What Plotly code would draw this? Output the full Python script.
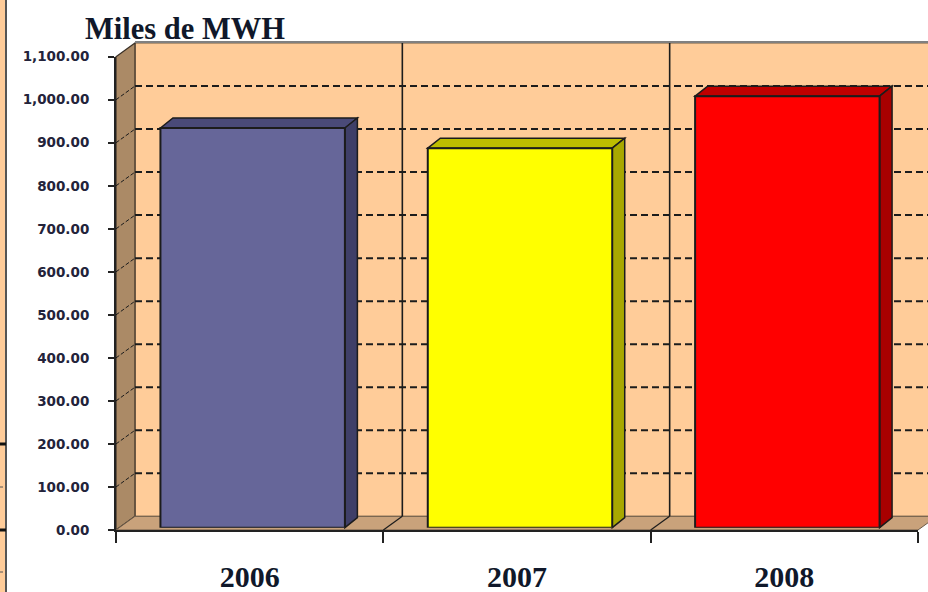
import plotly.graph_objects as go

# data
years = ["2006", "2007", "2008"]
values = [929, 882, 1003]
front_colors = ["#666699", "#FFFF00", "#FF0000"]
top_colors = ["#4A4A78", "#BDBD00", "#C00000"]
side_colors = ["#3F3F68", "#A8A800", "#A80000"]
y_ticks = list(range(0, 1200, 100))

W, H = 928, 592
AX_L, AX_R, AX_B, AX_T = 116, 918, 530, 56.7
DX, DY = 19, 13.7      # depth of walls
BAR_DX, BAR_DY = 12.5, 10  # depth of bars
SHIFT_X, SHIFT_Y = 3, 2.3  # offset of bars from the front plane
BAR_W = 0.69
YMAX = 1100
unit_x = (AX_R - AX_L) / 3
unit_y = (AX_B - AX_T) / YMAX
LINE = "#1c1c1c"


def px(x):
    return x / W


def py(y):
    return 1 - y / H


def poly(points, fill, line=LINE, width=1.5):
    path = "M " + " L ".join(f"{px(a):.5f},{py(b):.5f}" for a, b in points) + " Z"
    return dict(type="path", xref="paper", yref="paper", path=path, fillcolor=fill,
                line=dict(color=line, width=width), layer="below")


def seg(x0, y0, x1, y1, color=LINE, width=1.5, dash="solid"):
    return dict(type="line", xref="paper", yref="paper", x0=px(x0), y0=py(y0), x1=px(x1), y1=py(y1),
                line=dict(color=color, width=width, dash=dash), layer="below")


shapes = []
# neighbouring panel at the far left
shapes.append(dict(type="rect", xref="paper", yref="paper", x0=0, x1=px(5), y0=0, y1=1,
                   fillcolor="#FFCC99", line_width=0, layer="below"))
shapes.append(seg(6, 0, 6, H, color="#555555", width=2))
for yy in (444, 530):
    shapes.append(seg(0, yy, 6, yy, color="#111111", width=3))
for yy in (487, 572):
    shapes.append(seg(0, yy, 5, yy, color="#555555", width=1, dash="dot"))

# walls and floor
shapes.append(poly([(AX_L + DX, AX_T - DY), (AX_R + DX, AX_T - DY), (AX_R + DX, AX_B - DY), (AX_L + DX, AX_B - DY)],
                   "#FFCC99", line="#6b5a48", width=1))
shapes.append(poly([(AX_L, AX_T), (AX_L + DX, AX_T - DY), (AX_L + DX, AX_B - DY), (AX_L, AX_B)],
                   "#AB8A66", line="#3a3026", width=1.2))
shapes.append(poly([(AX_L, AX_B), (AX_L + DX, AX_B - DY), (AX_R + DX, AX_B - DY), (AX_R, AX_B)],
                   "#C9A27B", line="#6b5a48", width=1))
shapes.append(seg(AX_L + DX, AX_T - DY - 1, W, AX_T - DY - 1, color="#808080", width=2))

# gridlines on the walls
for v in y_ticks[1:-1]:
    y = AX_B - v * unit_y
    shapes.append(seg(AX_L + DX, y - DY, AX_R + DX, y - DY, dash="7px,4px", width=2))
    shapes.append(seg(AX_L, y, AX_L + DX, y - DY, dash="4px,2px", width=1))
for i in (1, 2):
    x = AX_L + i * unit_x
    shapes.append(seg(x + DX, AX_T - DY, x + DX, AX_B - DY, width=1.6))
    shapes.append(seg(x, AX_B, x + DX, AX_B - DY, width=1.2))

# depth faces of bars, derived from the values
base = AX_B - SHIFT_Y
for i, v in enumerate(values):
    c = AX_L + SHIFT_X + (i + 0.5) * unit_x
    l, r = c - BAR_W * unit_x / 2, c + BAR_W * unit_x / 2
    t = base - v * unit_y
    shapes.append(poly([(l, t), (l + BAR_DX, t - BAR_DY), (r + BAR_DX, t - BAR_DY), (r, t)], top_colors[i]))
    shapes.append(poly([(r, t), (r + BAR_DX, t - BAR_DY), (r + BAR_DX, base - BAR_DY), (r, base)], side_colors[i]))

fig = go.Figure()
fig.add_trace(go.Bar(x=years, y=values, marker=dict(color=front_colors, line=dict(color=LINE, width=2)),
                     width=BAR_W, xaxis="x", yaxis="y", showlegend=False, hoverinfo="x+y"))
# carries the visible axes
fig.add_trace(go.Scatter(x=years, y=values, mode="markers", marker=dict(opacity=0), xaxis="x2", yaxis="y2",
                         showlegend=False, hoverinfo="skip"))

tick_font = dict(family="DejaVu Sans", size=13.5, color="#23233a", weight="bold")
fig.update_layout(
    width=W, height=H, autosize=False,
    margin=dict(l=0, r=0, t=0, b=0, autoexpand=False),
    paper_bgcolor="white", plot_bgcolor="rgba(0,0,0,0)",
    shapes=shapes,
    title=dict(text="Miles de MWH", x=85 / W, xref="paper", xanchor="left", y=py(28), yref="paper", yanchor="middle",
               font=dict(family="Liberation Serif", size=30.5, color="#10182a", weight="bold")),
    xaxis=dict(domain=[px(AX_L + SHIFT_X), px(AX_R + SHIFT_X)], type="category", categoryorder="array",
               categoryarray=years, range=[-0.5, 2.5], visible=False, anchor="y"),
    yaxis=dict(domain=[py(AX_B - SHIFT_Y), py(AX_T - SHIFT_Y)], range=[0, YMAX], visible=False, anchor="x"),
    xaxis2=dict(domain=[px(AX_L), px(AX_R)], type="category", categoryorder="array", categoryarray=years,
                range=[-0.5, 2.5], anchor="y2", showline=True, linecolor="#222222", linewidth=2,
                ticks="outside", ticklen=11, tickwidth=2, tickcolor="#222222", tickson="boundaries",
                showgrid=False, zeroline=False, ticklabelstandoff=19,
                tickfont=dict(family="Liberation Serif", size=30, color="#10182a", weight="bold")),
    yaxis2=dict(domain=[py(AX_B), py(AX_T)], range=[0, YMAX], anchor="x2", showline=True, linecolor="#222222",
                linewidth=2, ticks="outside", ticklen=6, tickwidth=2, tickcolor="#222222", tickvals=y_ticks,
                tickformat=",.2f", showgrid=False, zeroline=False, ticklabelstandoff=16, tickfont=tick_font),
)
fig.write_html("out.html", config={"displayModeBar": False},
               post_script="document.body.style.margin='0';document.body.style.overflow='hidden';")
